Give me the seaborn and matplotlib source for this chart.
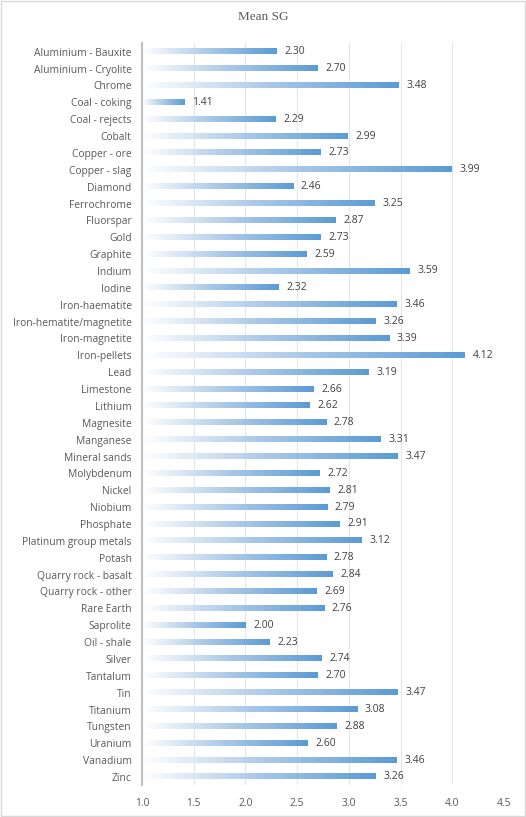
import numpy as np
import pandas as pd
import matplotlib
matplotlib.use("Agg")
import matplotlib.pyplot as plt
import seaborn as sns
from matplotlib.colors import LinearSegmentedColormap

categories = ["Aluminium - Bauxite", "Aluminium - Cryolite", "Chrome", "Coal - coking",
              "Coal - rejects", "Cobalt", "Copper - ore", "Copper - slag", "Diamond",
              "Ferrochrome", "Fluorspar", "Gold", "Graphite", "Indium", "Iodine",
              "Iron-haematite", "Iron-hematite/magnetite", "Iron-magnetite", "Iron-pellets",
              "Lead", "Limestone", "Lithium", "Magnesite", "Manganese", "Mineral sands",
              "Molybdenum", "Nickel", "Niobium", "Phosphate", "Platinum group metals",
              "Potash", "Quarry rock - basalt", "Quarry rock - other", "Rare Earth",
              "Saprolite", "Oil - shale", "Silver", "Tantalum", "Tin", "Titanium",
              "Tungsten", "Uranium", "Vanadium", "Zinc"]
values = [2.30, 2.70, 3.48, 1.41, 2.29, 2.99, 2.73, 3.99, 2.46, 3.25, 2.87, 2.73, 2.59,
          3.59, 2.32, 3.46, 3.26, 3.39, 4.12, 3.19, 2.66, 2.62, 2.78, 3.31, 3.47, 2.72,
          2.81, 2.79, 2.91, 3.12, 2.78, 2.84, 2.69, 2.76, 2.00, 2.23, 2.74, 2.70, 3.47,
          3.08, 2.88, 2.60, 3.46, 3.26]
xticks = [1.0, 1.5, 2.0, 2.5, 3.0, 3.5, 4.0, 4.5]
title = "Mean SG"

df = pd.DataFrame({"cat": categories, "val": values})

sns.set_theme(style="white")
plt.rcParams['font.family'] = ['Open Sans', 'DejaVu Sans']

W, H = 526, 817
fig = plt.figure(figsize=(W / 100, H / 100), dpi=100)
left_px, right_px, top_px, bot_px = 142, 504, 43.3, 785.4
ax = fig.add_axes([left_px / W, 1 - bot_px / H, (right_px - left_px) / W,
                   (bot_px - top_px) / H])

sns.barplot(data=df, y="cat", x="val", orient="h", ax=ax, width=0.3,
            color="#5B9BD5", saturation=1)

cmap = LinearSegmentedColormap.from_list("g", ["#FFFFFF", "#A9C8E8", "#5B9BD5"])
grad = np.linspace(0, 1, 256).reshape(1, -1)
for p in ax.patches:
    x0 = 1.0
    x1 = p.get_x() + p.get_width()
    y0 = p.get_y()
    y1 = y0 + p.get_height()
    p.set_facecolor("none")
    p.set_edgecolor("none")
    ax.imshow(grad, cmap=cmap, aspect="auto", extent=(x0, x1, y1, y0),
              interpolation="bilinear", zorder=2)
    ax.text(x1 + 0.075, (y0 + y1) / 2, f"{x1:.2f}", va="center", ha="left",
            fontsize=7.5, color="#404040")

ax.set_xlim(1.0, 4.5)
ax.set_ylim(len(categories) - 0.5, -0.5)
ax.set_xticks(xticks)
ax.set_xticklabels([f"{t:.1f}" for t in xticks])
ax.set_xlabel("")
ax.set_ylabel("")
ax.tick_params(axis="both", length=0, labelsize=7.4, colors="#595959")
ax.tick_params(axis="y", pad=7.5)
ax.tick_params(axis="x", pad=9)
ax.grid(axis="x", color="#E6E6E6", linewidth=0.8, zorder=0)
ax.set_axisbelow(True)
for s in ["top", "right", "bottom"]:
    ax.spines[s].set_visible(False)
ax.spines["left"].set_color("#BFBFBF")
ax.spines["left"].set_linewidth(1.5)
ax.spines["left"].set_zorder(3)

fig.text(263 / W, 1 - 16.5 / H, title, ha="center", va="center", fontsize=9.5,
         color="#595959", family=["Liberation Serif", "DejaVu Serif"])

border = plt.Rectangle((0.001, 0.001), 0.998, 0.998, transform=fig.transFigure,
                       fill=False, edgecolor="#D9D9D9", linewidth=1)
fig.patches.append(border)

fig.savefig("out.png", dpi=100)
